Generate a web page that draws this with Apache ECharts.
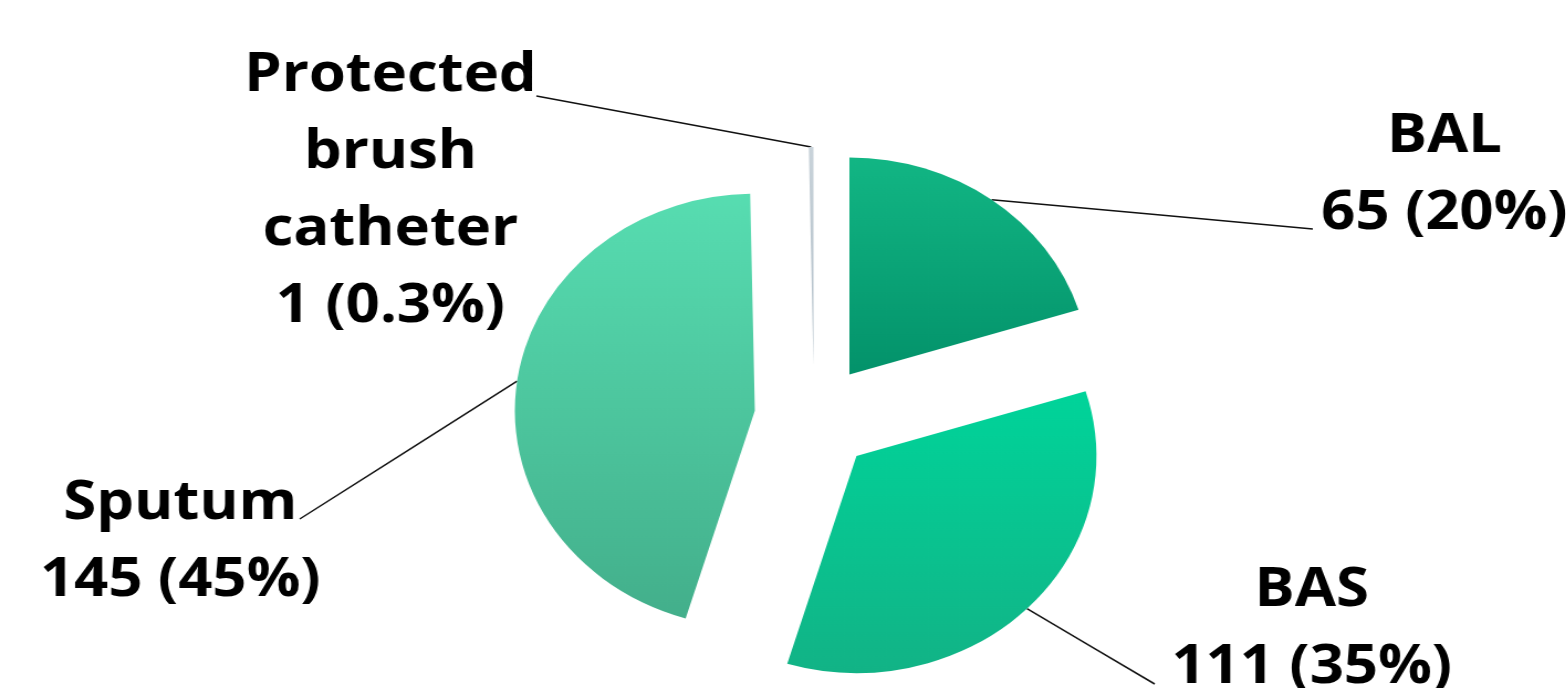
<!DOCTYPE html>
<html><head><meta charset="utf-8">
<script src="https://cdn.jsdelivr.net/npm/echarts@6/dist/echarts.min.js"></script>
<style>
html,body{margin:0;padding:0;background:#fff;overflow:hidden;}
#wrap{width:1566px;height:688px;overflow:hidden;position:relative;background:#fff;}
#chart{width:1416px;height:688px;transform:scaleX(1.106);transform-origin:0 0;}
</style></head><body>
<div id="wrap"><div id="chart"></div></div>
<script>
// ---- data ----
const categories = ['BAL', 'BAS', 'Sputum', 'Protected brush catheter'];
const values = [65, 111, 145, 1];
const percentLabels = ['20%', '35%', '45%', '0.3%'];

// ---- layout / style (unscaled chart px; the chart is stretched horizontally by CSS) ----
const PIE_CENTER = [736, 418];
const PIE_RADIUS = 217;
const EXPLODE = 54;
const sliceColors = [
  ['#12b684', '#03926a'],
  ['#00d49a', '#12b386'],
  ['#57ddb1', '#43af8b'],
  ['#c9d3da', '#aebcc6']
];
// [label centre x, label top y, label-line end x, label-line end y]
const labelBoxes = [
  [1306, 98, 1187, 229],
  [1186, 552, 1044, 684],
  [163, 465, 271, 519],
  [353, 37, 485, 96]
];

const total = values.reduce((a, b) => a + b, 0);
let cum = 0;
const centers = values.map(v => {
  const mid = ((cum + v / 2) / total) * 2 * Math.PI; // clockwise from 12 o'clock
  cum += v;
  return [PIE_CENTER[0] + EXPLODE * Math.sin(mid), PIE_CENTER[1] - EXPLODE * Math.cos(mid)];
});

const chart = echarts.init(document.getElementById('chart'), null, {renderer: 'canvas'});

const series = categories.map((_, i) => ({
  type: 'pie',
  center: centers[i],
  radius: PIE_RADIUS,
  startAngle: 90,
  clockwise: true,
  silent: true,
  animation: false,
  avoidLabelOverlap: false,
  emphasis: {disabled: true},
  data: categories.map((name, j) => ({
    name: name,
    value: values[j],
    itemStyle: j === i ? {
      color: {type: 'linear', x: 0, y: 0, x2: 0, y2: 1,
        colorStops: [{offset: 0, color: sliceColors[j][0]}, {offset: 1, color: sliceColors[j][1]}]}
    } : {color: 'rgba(0,0,0,0)'},
    label: {show: j === i},
    labelLine: {show: j === i}
  })),
  label: {
    position: 'outside',
    formatter: p => p.name.split(' ').join('\n') + '\n' + p.value + ' (' + percentLabels[p.dataIndex] + ')',
    color: '#000',
    fontFamily: 'Open Sans',
    fontWeight: 'bold',
    fontSize: 54,
    lineHeight: 77,
    align: 'center'
  },
  labelLine: {show: true, length: 20, length2: 20, lineStyle: {color: '#111', width: 1.5}},
  labelLayout: function (p) {
    if (p.dataIndex !== i) return {};
    const b = labelBoxes[i];
    const pts = p.labelLinePoints;
    const res = {x: b[0], y: b[1], align: 'center', verticalAlign: 'top'};
    if (pts && pts.length) {
      const s = pts[0];
      res.labelLinePoints = [s, [(s[0] + b[2]) / 2, (s[1] + b[3]) / 2], [b[2], b[3]]];
    }
    return res;
  }
}));

chart.setOption({backgroundColor: '#fff', animation: false, series: series});
</script>
</body></html>
